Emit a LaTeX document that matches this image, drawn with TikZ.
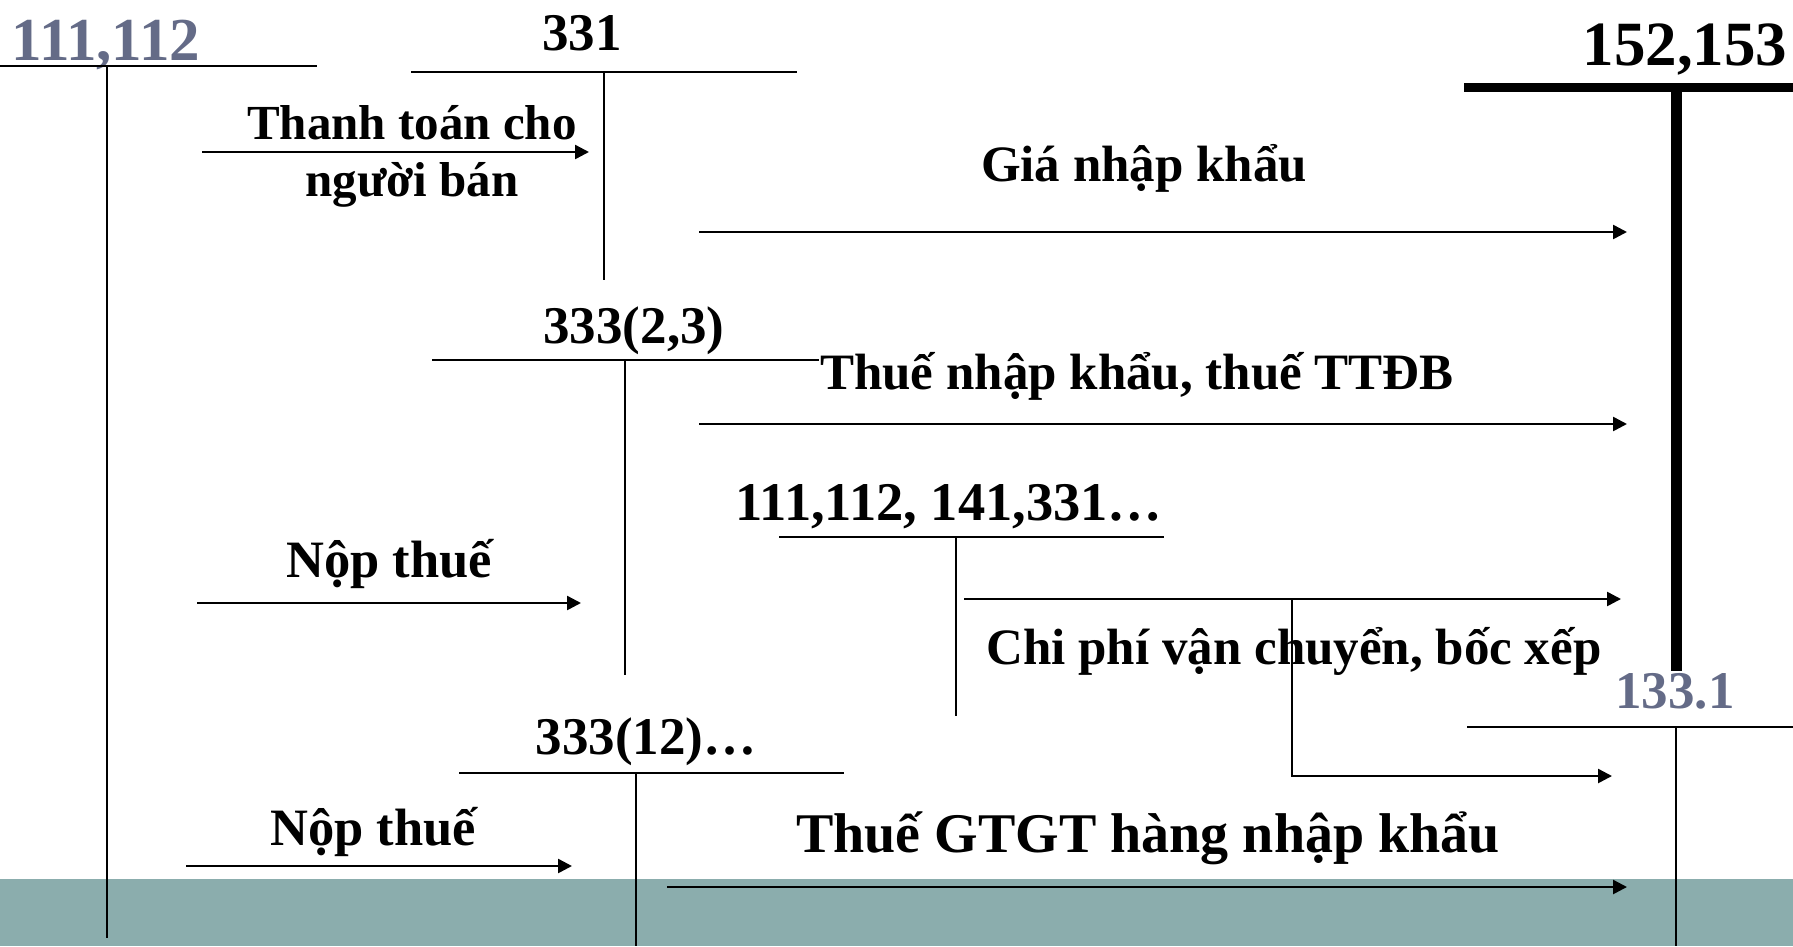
\documentclass[tikz,border=0pt]{standalone}
\usepackage{fontspec}
\setmainfont{Liberation Serif}
\usetikzlibrary{arrows.meta}
\definecolor{acctgrey}{HTML}{646B87}
\definecolor{bandteal}{HTML}{8BADAD}
\begin{document}
\begin{tikzpicture}[x=1pt,y=-1pt,
  lbl/.style={font=\bfseries\fontsize{51}{56}\selectfont, anchor=base, inner sep=0pt},
  acct/.style={font=\bfseries\fontsize{53}{57}\selectfont, anchor=base, inner sep=0pt},
  tline/.style={line width=2pt},
  thick line/.style={line width=11pt},
  flow/.style={line width=2.5pt, -{Triangle[length=14pt,width=14pt]}},
  link/.style={line width=2.5pt}]
\useasboundingbox (0,0) rectangle (1793,946);
% bottom band
\fill[bandteal] (0,879) rectangle (1793,946);

% account 111,112 (left)
\node[acct, text=acctgrey, font=\bfseries\fontsize{61}{64}\selectfont] (a111) at (106,60) {111,112};
\coordinate (a111l) at (0,66);   \coordinate (a111r) at (317,66);
\coordinate (a111t) at (107,66); \coordinate (a111b) at (107,938);
\draw[tline] (a111l) -- (a111r);
\draw[tline] (a111t) -- (a111b);

% account 331
\node[acct] (a331) at (582,50) {331};
\coordinate (a331l) at (411,72); \coordinate (a331r) at (797,72);
\coordinate (a331t) at (604,72); \coordinate (a331b) at (604,280);
\draw[tline] (a331l) -- (a331r);
\draw[tline] (a331t) -- (a331b);

% account 152,153
\node[acct, font=\bfseries\fontsize{63}{66}\selectfont] (a152) at (1685,65) {152,153};
\coordinate (a152l) at (1464,87); \coordinate (a152r) at (1793,87);
\coordinate (a152t) at (1676,83); \coordinate (a152b) at (1676,671);
\draw[line width=9pt] (a152l) -- (a152r);
\draw[thick line] (a152t) -- (a152b);

% account 333(2,3)
\node[acct] (a3323) at (634,343) {333(2,3)};
\coordinate (a3323l) at (432,360); \coordinate (a3323r) at (819,360);
\coordinate (a3323t) at (625,360); \coordinate (a3323b) at (625,675);
\draw[tline] (a3323l) -- (a3323r);
\draw[tline] (a3323t) -- (a3323b);

% account 111,112, 141,331...
\node[acct, font=\bfseries\fontsize{54.5}{58}\selectfont] (aother) at (949,520) {111,112, 141,331…};
\coordinate (aotherl) at (779,537); \coordinate (aotherr) at (1164,537);
\coordinate (aothert) at (956,537); \coordinate (aotherb) at (956,716);
\draw[tline] (aotherl) -- (aotherr);
\draw[tline] (aothert) -- (aotherb);

% account 133.1
\node[acct, text=acctgrey] (a1331) at (1675,708) {133.1};
\coordinate (a1331l) at (1467,727); \coordinate (a1331r) at (1793,727);
\coordinate (a1331t) at (1676,727); \coordinate (a1331b) at (1676,946);
\draw[tline] (a1331l) -- (a1331r);
\draw[tline] (a1331t) -- (a1331b);

% account 333(12)...
\node[acct] (a33312) at (646,754) {333(12)…};
\coordinate (a33312l) at (459,773); \coordinate (a33312r) at (844,773);
\coordinate (a33312t) at (636,773); \coordinate (a33312b) at (636,946);
\draw[tline] (a33312l) -- (a33312r);
\draw[tline] (a33312t) -- (a33312b);

% flow: payment to seller
\node[lbl, font=\bfseries\fontsize{49}{54}\selectfont] (tpay1) at (412,139) {Thanh toán cho};
\node[lbl, font=\bfseries\fontsize{49}{54}\selectfont] (tpay2) at (412,196) {người bán};
\coordinate (paySt) at (202,152); \coordinate (payEn) at (589,152);
\draw[flow] (paySt) -- (payEn);

% flow: import price
\node[lbl] (tgia) at (1144,181) {Giá nhập khẩu};
\coordinate (giaSt) at (699,232); \coordinate (giaEn) at (1627,232);
\draw[flow] (giaSt) -- (giaEn);

% flow: import tax
\node[lbl] (tnk) at (1137,389) {Thuế nhập khẩu, thuế TTĐB};
\coordinate (nkSt) at (699,424); \coordinate (nkEn) at (1627,424);
\draw[flow] (nkSt) -- (nkEn);

% flow: pay tax 1
\node[lbl, font=\bfseries\fontsize{52.5}{57}\selectfont] (tnop1) at (389,577) {Nộp thuế};
\coordinate (nop1St) at (197,603); \coordinate (nop1En) at (581,603);
\draw[flow] (nop1St) -- (nop1En);

% flow: transport costs
\node[lbl] (tcp) at (1294,664) {Chi phí vận chuyển, bốc xếp};
\coordinate (cpSt) at (964,599); \coordinate (cpEn) at (1621,599);
\coordinate (cpBr) at (1292,599); \coordinate (cpBd) at (1292,776);
\coordinate (cpBe) at (1612,776);
\draw[flow] (cpSt) -- (cpEn);
\draw[flow] (cpBr) -- (cpBd) -- (cpBe);

% flow: pay tax 2
\node[lbl, font=\bfseries\fontsize{52.5}{57}\selectfont] (tnop2) at (373,845) {Nộp thuế};
\coordinate (nop2St) at (186,866); \coordinate (nop2En) at (572,866);
\draw[flow] (nop2St) -- (nop2En);

% flow: VAT
\node[lbl, font=\bfseries\fontsize{56}{60}\selectfont] (tgtgt) at (1148,852) {Thuế GTGT hàng nhập khẩu};
\coordinate (gtSt) at (667,887); \coordinate (gtEn) at (1627,887);
\draw[flow] (gtSt) -- (gtEn);
\end{tikzpicture}
\end{document}
